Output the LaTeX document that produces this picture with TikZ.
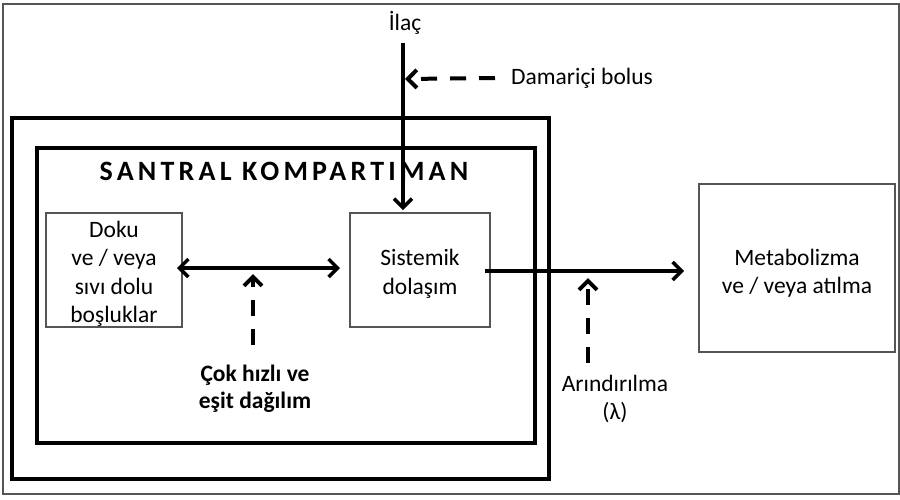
\documentclass[tikz,border=0pt]{standalone}
\usepackage{fontspec}
\setmainfont{Carlito}
\newfontfamily\titlefont[LetterSpace=15]{Carlito}
\usetikzlibrary{arrows.meta}
\definecolor{boxgray}{HTML}{555555}
\tikzset{
  frame/.style={draw=boxgray, line width=1.5},
  compbox/.style={draw=black, line width=4.5},
  subbox/.style={draw=boxgray, line width=1.2, inner sep=0pt},
  label/.style={align=center, inner sep=0pt, font=\fontsize{23.5}{28.5}\selectfont},
  boldlabel/.style={align=center, inner sep=0pt, font=\fontsize{23.5}{27}\selectfont\bfseries},
  flow/.style={line width=3.5, -{Straight Barb[length=9,width=18]}},
  twoway/.style={line width=3.5, {Straight Barb[length=9,width=18]}-{Straight Barb[length=9,width=18]}},
  dashflow/.style={line width=4, dash pattern=on 16 off 13, -{Straight Barb[length=9,width=18]}},
}
\begin{document}
\begin{tikzpicture}[x=1pt, y=-1pt]
  \useasboundingbox (0,0) rectangle (900,499);
  % outer frame
  \draw[frame] (3,4) rectangle (899,494);

  % central compartment walls
  \draw[compbox] (12,118) rectangle (549,479);
  \draw[compbox] (37,148) rectangle (535,443);
  \node[inner sep=0pt, font=\titlefont\fontsize{28}{32}\selectfont\bfseries] (title) at (284,171) {SANTRAL KOMPARTIMAN};

  % boxes and their texts
  \node[subbox, minimum width=136, minimum height=114] (doku) at (114,270) {};
  \node[label] (dokutext) at ([yshift=-4]doku.center) {Doku\\ve / veya\\sıvı dolu\\boşluklar};
  \node[subbox, minimum width=140, minimum height=114] (sys) at (420,270) {};
  \node[label] (systext) at ([yshift=-4]sys.center) {Sistemik\\dolaşım};
  \node[subbox, minimum width=196, minimum height=168] (met) at (797,268) {};
  \node[label] (mettext) at ([yshift=-5]met.center) {Metabolizma\\ve / veya atılma};

  % drug input
  \node[label] (ilac) at (405,23) {İlaç};
  \coordinate (ilactop) at (403,43);
  \draw[flow] (ilactop) -- (403,210);
  \node[label, anchor=west] (bolus) at (511,78) {Damariçi bolus};
  \draw[dashflow] ([xshift=-16]bolus.west) -- (405,79);

  % distribution
  \draw[twoway] (177,268) -- (340,268);
  \node[boldlabel] (dist) at (255,389) {Çok hızlı ve\\eşit dağılım};
  \draw[dashflow] (253,345) -- (253,274);

  % elimination
  \draw[flow] (485,271) -- (684,271);
  \node[label] (clear) at (615,399) {Arındırılma\\(λ)};
  \draw[dashflow] (588,363) -- (588,278);
\end{tikzpicture}
\end{document}
